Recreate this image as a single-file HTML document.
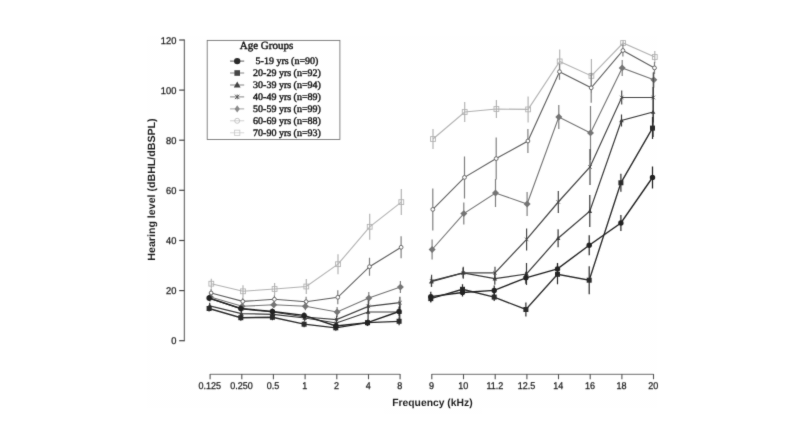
<!DOCTYPE html>
<html lang="en"><head><meta charset="utf-8"><title>Hearing level by age group</title>
<style>
html,body{margin:0;padding:0;background:#fff;}
body{width:800px;height:425px;overflow:hidden;}
svg{display:block;}
text{text-rendering:geometricPrecision;}
</style></head><body>
<svg width="800" height="425" viewBox="0 0 800 425">
<rect width="800" height="425" fill="#fff"/>
<defs><filter id="b" x="0" y="0" width="800" height="425" filterUnits="userSpaceOnUse"><feConvolveMatrix order="3" kernelMatrix="0.0100 0.0800 0.0100 0.0800 0.6400 0.0800 0.0100 0.0800 0.0100" edgeMode="none" preserveAlpha="false"/></filter></defs>
<pattern id="n" width="2" height="2" patternUnits="userSpaceOnUse"><rect width="2" height="2" fill="#fff"/><rect width="1" height="1" fill="#fefefe"/><rect x="1" y="1" width="1" height="1" fill="#fefefe"/></pattern>
<path d="M147 36H657V408H482V414H384V408H147Z" fill="url(#n)"/>
<g id="plot" filter="url(#b)">
<g stroke="#6a6a6a" stroke-width="1.1" fill="none">
<path d="M184.4 39.6V341.2" stroke="#777" stroke-width="1.3"/>
<path d="M179.2 340.7H184.4" stroke="#444" stroke-width="1.2"/>
<path d="M179.2 290.6H184.4" stroke="#444" stroke-width="1.2"/>
<path d="M179.2 240.5H184.4" stroke="#444" stroke-width="1.2"/>
<path d="M179.2 190.3H184.4" stroke="#444" stroke-width="1.2"/>
<path d="M179.2 140.2H184.4" stroke="#444" stroke-width="1.2"/>
<path d="M179.2 90.1H184.4" stroke="#444" stroke-width="1.2"/>
<path d="M179.2 40.0H184.4" stroke="#444" stroke-width="1.2"/>
<path d="M210.1 374.4H400.1M431.8 374.4H653.5" stroke="#8a8a8a" stroke-width="1.1"/>
<path d="M210.1 374V379.2" stroke="#555" stroke-width="1.1"/>
<path d="M400.1 374V379.2" stroke="#555" stroke-width="1.1"/>
<path d="M431.8 374V379.2" stroke="#555" stroke-width="1.1"/>
<path d="M653.5 374V379.2" stroke="#555" stroke-width="1.1"/>
<path d="M241.8 374V379.2" stroke="#555" stroke-width="1.1"/>
<path d="M273.4 374V379.2" stroke="#555" stroke-width="1.1"/>
<path d="M305.1 374V379.2" stroke="#555" stroke-width="1.1"/>
<path d="M336.8 374V379.2" stroke="#555" stroke-width="1.1"/>
<path d="M368.5 374V379.2" stroke="#555" stroke-width="1.1"/>
<path d="M463.5 374V379.2" stroke="#555" stroke-width="1.1"/>
<path d="M495.2 374V379.2" stroke="#555" stroke-width="1.1"/>
<path d="M526.9 374V379.2" stroke="#555" stroke-width="1.1"/>
<path d="M558.5 374V379.2" stroke="#555" stroke-width="1.1"/>
<path d="M590.2 374V379.2" stroke="#555" stroke-width="1.1"/>
<path d="M621.9 374V379.2" stroke="#555" stroke-width="1.1"/>
</g>
<g font-family="'Liberation Sans',Arial,sans-serif" font-size="9.8" fill="#1a1a1a" stroke="#1a1a1a" stroke-width="0.25">
<text transform="translate(176.4 344.2) scale(0.95 1)" text-anchor="end">0</text>
<text transform="translate(176.4 294.1) scale(0.95 1)" text-anchor="end">20</text>
<text transform="translate(176.4 244.0) scale(0.95 1)" text-anchor="end">40</text>
<text transform="translate(176.4 193.8) scale(0.95 1)" text-anchor="end">60</text>
<text transform="translate(176.4 143.7) scale(0.95 1)" text-anchor="end">80</text>
<text transform="translate(176.4 93.6) scale(0.95 1)" text-anchor="end">100</text>
<text transform="translate(176.4 43.5) scale(0.95 1)" text-anchor="end">120</text>
<text transform="translate(209.8 389.4) scale(0.92 1)" text-anchor="middle">0.125</text>
<text transform="translate(241.5 389.4) scale(0.92 1)" text-anchor="middle">0.250</text>
<text transform="translate(273.1 389.4) scale(0.92 1)" text-anchor="middle">0.5</text>
<text transform="translate(304.8 389.4) scale(0.92 1)" text-anchor="middle">1</text>
<text transform="translate(336.5 389.4) scale(0.92 1)" text-anchor="middle">2</text>
<text transform="translate(368.2 389.4) scale(0.92 1)" text-anchor="middle">4</text>
<text transform="translate(399.8 389.4) scale(0.92 1)" text-anchor="middle">8</text>
<text transform="translate(431.5 389.4) scale(0.92 1)" text-anchor="middle">9</text>
<text transform="translate(463.2 389.4) scale(0.92 1)" text-anchor="middle">10</text>
<text transform="translate(494.9 389.4) scale(0.92 1)" text-anchor="middle">11.2</text>
<text transform="translate(526.6 389.4) scale(0.92 1)" text-anchor="middle">12.5</text>
<text transform="translate(558.2 389.4) scale(0.92 1)" text-anchor="middle">14</text>
<text transform="translate(589.9 389.4) scale(0.92 1)" text-anchor="middle">16</text>
<text transform="translate(621.6 389.4) scale(0.92 1)" text-anchor="middle">18</text>
<text transform="translate(653.2 389.4) scale(0.92 1)" text-anchor="middle">20</text>
</g>
<g font-family="'Liberation Sans',Arial,sans-serif" font-weight="bold" fill="#1e1e1e">
<text transform="translate(432.4 406.4) scale(0.99 1)" text-anchor="middle" font-size="10.45">Frequency (kHz)</text>
<text transform="translate(154.6 189.5) rotate(-90) scale(1.012 1)" text-anchor="middle" font-size="10.5">Hearing level (dBHL/dBSPL)</text>
</g>
<polyline points="211.3,283.7 243.0,291.3 274.6,289.0 306.3,286.5 338.0,264.2 369.7,226.8 401.3,202.1" fill="none" stroke="#b2b2b2" stroke-width="1.1"/>
<polyline points="433.0,139.0 464.7,112.0 496.4,109.0 528.1,109.4 559.7,61.4 591.4,75.9 623.1,43.0 654.8,57.0" fill="none" stroke="#b2b2b2" stroke-width="1.1"/>
<path d="M211.3 278.7V288.7M243.0 285.3V297.3M274.6 283.0V295.0M306.3 278.9V294.1M338.0 254.2V274.2M369.7 213.8V239.8M401.3 189.1V215.1M433.0 129.0V149.0M464.7 102.0V122.0M496.4 100.0V118.0M528.1 96.4V122.4M559.7 49.4V73.4M591.4 58.9V92.9M623.1 40.0V46.0M654.8 51.0V63.0" stroke="#b4b4b4" stroke-width="1.2" fill="none"/>
<rect x="208.9" y="281.3" width="4.8" height="4.8" fill="none" stroke="#b2b2b2" stroke-width="0.9"/>
<rect x="240.6" y="288.9" width="4.8" height="4.8" fill="none" stroke="#b2b2b2" stroke-width="0.9"/>
<rect x="272.2" y="286.6" width="4.8" height="4.8" fill="none" stroke="#b2b2b2" stroke-width="0.9"/>
<rect x="303.9" y="284.1" width="4.8" height="4.8" fill="none" stroke="#b2b2b2" stroke-width="0.9"/>
<rect x="335.6" y="261.8" width="4.8" height="4.8" fill="none" stroke="#b2b2b2" stroke-width="0.9"/>
<rect x="367.3" y="224.4" width="4.8" height="4.8" fill="none" stroke="#b2b2b2" stroke-width="0.9"/>
<rect x="398.9" y="199.7" width="4.8" height="4.8" fill="none" stroke="#b2b2b2" stroke-width="0.9"/>
<rect x="430.6" y="136.6" width="4.8" height="4.8" fill="none" stroke="#b2b2b2" stroke-width="0.9"/>
<rect x="462.3" y="109.6" width="4.8" height="4.8" fill="none" stroke="#b2b2b2" stroke-width="0.9"/>
<rect x="494.0" y="106.6" width="4.8" height="4.8" fill="none" stroke="#b2b2b2" stroke-width="0.9"/>
<rect x="525.7" y="107.0" width="4.8" height="4.8" fill="none" stroke="#b2b2b2" stroke-width="0.9"/>
<rect x="557.3" y="59.0" width="4.8" height="4.8" fill="none" stroke="#b2b2b2" stroke-width="0.9"/>
<rect x="589.0" y="73.5" width="4.8" height="4.8" fill="none" stroke="#b2b2b2" stroke-width="0.9"/>
<rect x="620.7" y="40.6" width="4.8" height="4.8" fill="none" stroke="#b2b2b2" stroke-width="0.9"/>
<rect x="652.4" y="54.6" width="4.8" height="4.8" fill="none" stroke="#b2b2b2" stroke-width="0.9"/>
<polyline points="211.1,293.0 242.8,301.4 274.4,299.3 306.1,301.7 337.8,297.3 369.5,266.7 401.1,247.3" fill="none" stroke="#5e5e5e" stroke-width="1.1"/>
<polyline points="432.8,209.4 464.5,177.4 496.2,158.6 527.9,141.0 559.5,71.7 591.2,87.8 622.9,50.5 654.5,67.9" fill="none" stroke="#5e5e5e" stroke-width="1.1"/>
<path d="M211.1 289.0V297.0M242.8 297.4V305.4M274.4 295.3V303.3M306.1 296.7V306.7M337.8 290.3V304.3M369.5 257.7V275.7M401.1 236.3V258.3M432.8 188.4V230.4M464.5 156.4V198.4M496.2 137.6V179.6M527.9 129.0V153.0M559.5 63.7V79.7M591.2 72.8V102.8M622.9 44.5V56.5M654.5 61.9V73.9" stroke="#808080" stroke-width="1.2" fill="none"/>
<circle cx="211.1" cy="293.0" r="1.90" fill="#fdfdfd" stroke="#5e5e5e" stroke-width="1"/>
<circle cx="242.8" cy="301.4" r="1.90" fill="#fdfdfd" stroke="#5e5e5e" stroke-width="1"/>
<circle cx="274.4" cy="299.3" r="1.90" fill="#fdfdfd" stroke="#5e5e5e" stroke-width="1"/>
<circle cx="306.1" cy="301.7" r="1.90" fill="#fdfdfd" stroke="#5e5e5e" stroke-width="1"/>
<circle cx="337.8" cy="297.3" r="1.90" fill="#fdfdfd" stroke="#5e5e5e" stroke-width="1"/>
<circle cx="369.5" cy="266.7" r="1.90" fill="#fdfdfd" stroke="#5e5e5e" stroke-width="1"/>
<circle cx="401.1" cy="247.3" r="1.90" fill="#fdfdfd" stroke="#5e5e5e" stroke-width="1"/>
<circle cx="432.8" cy="209.4" r="1.90" fill="#fdfdfd" stroke="#5e5e5e" stroke-width="1"/>
<circle cx="464.5" cy="177.4" r="1.90" fill="#fdfdfd" stroke="#5e5e5e" stroke-width="1"/>
<circle cx="496.2" cy="158.6" r="1.90" fill="#fdfdfd" stroke="#5e5e5e" stroke-width="1"/>
<circle cx="527.9" cy="141.0" r="1.90" fill="#fdfdfd" stroke="#5e5e5e" stroke-width="1"/>
<circle cx="559.5" cy="71.7" r="1.90" fill="#fdfdfd" stroke="#5e5e5e" stroke-width="1"/>
<circle cx="591.2" cy="87.8" r="1.90" fill="#fdfdfd" stroke="#5e5e5e" stroke-width="1"/>
<circle cx="622.9" cy="50.5" r="1.90" fill="#fdfdfd" stroke="#5e5e5e" stroke-width="1"/>
<circle cx="654.5" cy="67.9" r="1.90" fill="#fdfdfd" stroke="#5e5e5e" stroke-width="1"/>
<polyline points="210.4,297.0 242.1,306.3 273.8,304.8 305.4,306.3 337.1,312.0 368.8,298.1 400.4,287.1" fill="none" stroke="#747474" stroke-width="1.1"/>
<polyline points="432.1,249.5 463.8,213.6 495.5,193.0 527.1,204.0 558.8,117.0 590.5,132.9 622.2,67.9 653.8,79.8" fill="none" stroke="#747474" stroke-width="1.1"/>
<path d="M210.4 294.0V300.0M242.1 303.3V309.3M273.8 301.8V307.8M305.4 302.3V310.3M337.1 307.0V317.0M368.8 292.1V304.1M400.4 281.1V293.1M432.1 239.5V259.5M463.8 202.6V224.6M495.5 179.0V207.0M527.1 192.0V216.0M558.8 105.0V129.0M590.5 105.9V159.9M622.2 59.9V75.9M653.8 71.8V87.8" stroke="#808080" stroke-width="1.2" fill="none"/>
<polygon points="210.4,293.6 213.9,297.0 210.4,300.4 206.9,297.0" fill="#747474"/>
<polygon points="242.1,302.9 245.6,306.3 242.1,309.7 238.6,306.3" fill="#747474"/>
<polygon points="273.8,301.4 277.2,304.8 273.8,308.2 270.2,304.8" fill="#747474"/>
<polygon points="305.4,302.9 308.9,306.3 305.4,309.7 301.9,306.3" fill="#747474"/>
<polygon points="337.1,308.6 340.6,312.0 337.1,315.4 333.6,312.0" fill="#747474"/>
<polygon points="368.8,294.7 372.3,298.1 368.8,301.5 365.3,298.1" fill="#747474"/>
<polygon points="400.4,283.7 403.9,287.1 400.4,290.5 396.9,287.1" fill="#747474"/>
<polygon points="432.1,246.1 435.6,249.5 432.1,252.9 428.6,249.5" fill="#747474"/>
<polygon points="463.8,210.2 467.3,213.6 463.8,217.0 460.3,213.6" fill="#747474"/>
<polygon points="495.5,189.6 499.0,193.0 495.5,196.4 492.0,193.0" fill="#747474"/>
<polygon points="527.1,200.6 530.6,204.0 527.1,207.4 523.6,204.0" fill="#747474"/>
<polygon points="558.8,113.6 562.3,117.0 558.8,120.4 555.3,117.0" fill="#747474"/>
<polygon points="590.5,129.5 594.0,132.9 590.5,136.3 587.0,132.9" fill="#747474"/>
<polygon points="622.2,64.5 625.7,67.9 622.2,71.3 618.7,67.9" fill="#747474"/>
<polygon points="653.8,76.4 657.3,79.8 653.8,83.2 650.3,79.8" fill="#747474"/>
<polyline points="209.9,298.5 241.6,309.0 273.2,312.0 304.9,317.0 336.6,319.6 368.3,306.4 399.9,302.7" fill="none" stroke="#444444" stroke-width="1.2"/>
<polyline points="431.6,280.8 463.3,272.8 495.0,272.8 526.6,239.4 558.3,202.0 590.0,167.0 621.7,97.5 653.3,97.5" fill="none" stroke="#444444" stroke-width="1.2"/>
<path d="M209.9 295.5V301.5M241.6 306.0V312.0M273.2 309.0V315.0M304.9 314.0V320.0M336.6 315.6V323.6M368.3 300.4V312.4M399.9 296.7V308.7M431.6 274.8V286.8M463.3 266.8V278.8M495.0 266.8V278.8M526.6 228.4V250.4M558.3 191.0V213.0M590.0 149.0V185.0M621.7 90.5V104.5M653.3 72.5V122.5" stroke="#4a4a4a" stroke-width="1.2" fill="none"/>
<path d="M208.1 296.7L211.7 300.3M208.1 300.3L211.7 296.7" stroke="#444444" stroke-width="0.8" fill="none"/>
<path d="M239.8 307.2L243.4 310.8M239.8 310.8L243.4 307.2" stroke="#444444" stroke-width="0.8" fill="none"/>
<path d="M271.4 310.2L275.1 313.8M271.4 313.8L275.1 310.2" stroke="#444444" stroke-width="0.8" fill="none"/>
<path d="M303.1 315.2L306.7 318.8M303.1 318.8L306.7 315.2" stroke="#444444" stroke-width="0.8" fill="none"/>
<path d="M334.8 317.8L338.4 321.4M334.8 321.4L338.4 317.8" stroke="#444444" stroke-width="0.8" fill="none"/>
<path d="M366.5 304.6L370.1 308.2M366.5 308.2L370.1 304.6" stroke="#444444" stroke-width="0.8" fill="none"/>
<path d="M398.1 300.9L401.8 304.5M398.1 304.5L401.8 300.9" stroke="#444444" stroke-width="0.8" fill="none"/>
<path d="M429.8 279.0L433.4 282.6M429.8 282.6L433.4 279.0" stroke="#444444" stroke-width="0.8" fill="none"/>
<path d="M461.5 271.0L465.1 274.6M461.5 274.6L465.1 271.0" stroke="#444444" stroke-width="0.8" fill="none"/>
<path d="M493.2 271.0L496.8 274.6M493.2 274.6L496.8 271.0" stroke="#444444" stroke-width="0.8" fill="none"/>
<path d="M524.9 237.6L528.4 241.2M524.9 241.2L528.4 237.6" stroke="#444444" stroke-width="0.8" fill="none"/>
<path d="M556.5 200.2L560.1 203.8M556.5 203.8L560.1 200.2" stroke="#444444" stroke-width="0.8" fill="none"/>
<path d="M588.2 165.2L591.8 168.8M588.2 168.8L591.8 165.2" stroke="#444444" stroke-width="0.8" fill="none"/>
<path d="M619.9 95.7L623.5 99.3M619.9 99.3L623.5 95.7" stroke="#444444" stroke-width="0.8" fill="none"/>
<path d="M651.5 95.7L655.1 99.3M651.5 99.3L655.1 95.7" stroke="#444444" stroke-width="0.8" fill="none"/>
<polyline points="209.7,305.8 241.4,313.6 273.1,314.3 304.7,318.0 336.4,323.0 368.1,312.0 399.8,312.0" fill="none" stroke="#3a3a3a" stroke-width="1.2"/>
<polyline points="431.4,281.7 463.1,272.8 494.8,278.7 526.5,274.0 558.1,238.2 589.8,211.1 621.5,120.5 653.1,112.0" fill="none" stroke="#3a3a3a" stroke-width="1.2"/>
<path d="M209.7 302.8V308.8M241.4 310.6V316.6M273.1 311.3V317.3M304.7 315.0V321.0M336.4 319.0V327.0M368.1 304.0V320.0M399.8 304.0V320.0M431.4 276.7V286.7M463.1 267.8V277.8M494.8 272.7V284.7M526.5 263.0V285.0M558.1 229.2V247.2M589.8 195.1V227.1M621.5 114.5V126.5M653.1 87.0V137.0" stroke="#3a3a3a" stroke-width="1.2" fill="none"/>
<polygon points="209.7,303.5 212.0,307.6 207.4,307.6" fill="#3a3a3a"/>
<polygon points="241.4,311.3 243.7,315.4 239.1,315.4" fill="#3a3a3a"/>
<polygon points="273.1,312.0 275.4,316.1 270.8,316.1" fill="#3a3a3a"/>
<polygon points="304.7,315.7 307.0,319.8 302.4,319.8" fill="#3a3a3a"/>
<polygon points="336.4,320.7 338.7,324.8 334.1,324.8" fill="#3a3a3a"/>
<polygon points="368.1,309.7 370.4,313.8 365.8,313.8" fill="#3a3a3a"/>
<polygon points="399.8,309.7 402.1,313.8 397.4,313.8" fill="#3a3a3a"/>
<polygon points="431.4,279.4 433.7,283.5 429.1,283.5" fill="#3a3a3a"/>
<polygon points="463.1,270.5 465.4,274.6 460.8,274.6" fill="#3a3a3a"/>
<polygon points="494.8,276.4 497.1,280.5 492.5,280.5" fill="#3a3a3a"/>
<polygon points="526.5,271.7 528.8,275.8 524.2,275.8" fill="#3a3a3a"/>
<polygon points="558.1,235.9 560.4,240.0 555.8,240.0" fill="#3a3a3a"/>
<polygon points="589.8,208.8 592.1,212.9 587.5,212.9" fill="#3a3a3a"/>
<polygon points="621.5,118.2 623.8,122.3 619.2,122.3" fill="#3a3a3a"/>
<polygon points="653.1,109.7 655.4,113.8 650.9,113.8" fill="#3a3a3a"/>
<polyline points="209.1,308.5 240.8,317.7 272.4,317.3 304.1,324.2 335.8,327.8 367.5,322.7 399.1,321.3" fill="none" stroke="#2a2a2a" stroke-width="1.35"/>
<polyline points="430.8,298.6 462.5,289.3 494.2,297.1 525.9,309.5 557.5,274.3 589.2,280.2 620.9,182.8 652.5,128.1" fill="none" stroke="#2a2a2a" stroke-width="1.35"/>
<path d="M209.1 305.5V311.5M240.8 314.7V320.7M272.4 314.3V320.3M304.1 321.2V327.2M335.8 324.8V330.8M367.5 319.7V325.7M399.1 317.3V325.3M430.8 294.6V302.6M462.5 284.3V294.3M494.2 293.1V301.1M525.9 302.5V316.5M557.5 264.3V284.3M589.2 266.2V294.2M620.9 173.8V191.8M652.5 117.1V139.1" stroke="#2a2a2a" stroke-width="1.2" fill="none"/>
<rect x="206.6" y="306.0" width="5.0" height="5.0" fill="#2a2a2a"/>
<rect x="238.3" y="315.2" width="5.0" height="5.0" fill="#2a2a2a"/>
<rect x="269.9" y="314.8" width="5.0" height="5.0" fill="#2a2a2a"/>
<rect x="301.6" y="321.7" width="5.0" height="5.0" fill="#2a2a2a"/>
<rect x="333.3" y="325.3" width="5.0" height="5.0" fill="#2a2a2a"/>
<rect x="365.0" y="320.2" width="5.0" height="5.0" fill="#2a2a2a"/>
<rect x="396.6" y="318.8" width="5.0" height="5.0" fill="#2a2a2a"/>
<rect x="428.3" y="296.1" width="5.0" height="5.0" fill="#2a2a2a"/>
<rect x="460.0" y="286.8" width="5.0" height="5.0" fill="#2a2a2a"/>
<rect x="491.7" y="294.6" width="5.0" height="5.0" fill="#2a2a2a"/>
<rect x="523.4" y="307.0" width="5.0" height="5.0" fill="#2a2a2a"/>
<rect x="555.0" y="271.8" width="5.0" height="5.0" fill="#2a2a2a"/>
<rect x="586.7" y="277.7" width="5.0" height="5.0" fill="#2a2a2a"/>
<rect x="618.4" y="180.3" width="5.0" height="5.0" fill="#2a2a2a"/>
<rect x="650.0" y="125.6" width="5.0" height="5.0" fill="#2a2a2a"/>
<polyline points="209.1,298.0 240.8,308.5 272.4,311.5 304.1,315.4 335.8,326.0 367.5,322.7 399.1,311.5" fill="none" stroke="#222222" stroke-width="1.35"/>
<polyline points="430.8,296.7 462.5,292.5 494.2,290.4 525.9,277.8 557.5,268.9 589.2,245.2 620.9,223.0 652.5,177.5" fill="none" stroke="#222222" stroke-width="1.35"/>
<path d="M209.1 295.0V301.0M240.8 305.5V311.5M272.4 308.5V314.5M304.1 312.4V318.4M335.8 323.0V329.0M367.5 319.7V325.7M399.1 306.5V316.5M430.8 291.7V301.7M462.5 288.5V296.5M494.2 285.4V295.4M525.9 271.8V283.8M557.5 262.9V274.9M589.2 235.2V255.2M620.9 215.0V231.0M652.5 166.5V188.5" stroke="#222" stroke-width="1.2" fill="none"/>
<circle cx="209.1" cy="298.0" r="2.70" fill="#222222"/>
<circle cx="240.8" cy="308.5" r="2.70" fill="#222222"/>
<circle cx="272.4" cy="311.5" r="2.70" fill="#222222"/>
<circle cx="304.1" cy="315.4" r="2.70" fill="#222222"/>
<circle cx="335.8" cy="326.0" r="2.70" fill="#222222"/>
<circle cx="367.5" cy="322.7" r="2.70" fill="#222222"/>
<circle cx="399.1" cy="311.5" r="2.70" fill="#222222"/>
<circle cx="430.8" cy="296.7" r="2.70" fill="#222222"/>
<circle cx="462.5" cy="292.5" r="2.70" fill="#222222"/>
<circle cx="494.2" cy="290.4" r="2.70" fill="#222222"/>
<circle cx="525.9" cy="277.8" r="2.70" fill="#222222"/>
<circle cx="557.5" cy="268.9" r="2.70" fill="#222222"/>
<circle cx="589.2" cy="245.2" r="2.70" fill="#222222"/>
<circle cx="620.9" cy="223.0" r="2.70" fill="#222222"/>
<circle cx="652.5" cy="177.5" r="2.70" fill="#222222"/>
<rect x="207.2" y="40.4" width="132.7" height="99.1" fill="#fff" fill-opacity="0" stroke="#707070" stroke-width="0.85"/>
<g font-family="'Liberation Serif','Times New Roman',serif" fill="#111" stroke="#111" stroke-width="0.4">
<text x="266.5" y="48.9" text-anchor="middle" font-size="11">Age Groups</text>
<text x="287" y="64.4" text-anchor="middle" font-size="10">5-19 yrs (n=90)</text>
<text x="287" y="76.3" text-anchor="middle" font-size="10">20-29 yrs (n=92)</text>
<text x="287" y="88.3" text-anchor="middle" font-size="10">30-39 yrs (n=94)</text>
<text x="287" y="100.2" text-anchor="middle" font-size="10">40-49 yrs (n=89)</text>
<text x="287" y="112.2" text-anchor="middle" font-size="10">50-59 yrs (n=99)</text>
<text x="287" y="124.1" text-anchor="middle" font-size="10">60-69 yrs (n=88)</text>
<text x="287" y="136.1" text-anchor="middle" font-size="10">70-90 yrs (n=93)</text>
</g>
<path d="M230.1 61.1H244.2" stroke="#484848" stroke-width="0.9"/>
<circle cx="237.2" cy="61.1" r="3.2" fill="#2a2a2a"/>
<path d="M230.1 73.0H244.2" stroke="#777" stroke-width="0.9"/>
<rect x="234.39999999999998" y="70.2" width="5.6" height="5.6" fill="#444"/>
<path d="M230.1 85.0H244.2" stroke="#777" stroke-width="0.9"/>
<polygon points="237.2,81.6 240.6,87.6 233.79999999999998,87.6" fill="#444"/>
<path d="M230.1 96.9H244.2" stroke="#777" stroke-width="0.9"/>
<path d="M235.0 94.7L239.39999999999998 99.1M235.0 99.1L239.39999999999998 94.7M237.2 94.5V99.3" stroke="#555" stroke-width="1" fill="none"/>
<path d="M230.1 108.9H244.2" stroke="#999" stroke-width="0.9"/>
<polygon points="237.2,105.3 239.79999999999998,108.9 237.2,112.5 234.6,108.9" fill="#8a8a8a"/>
<path d="M230.1 120.8H244.2" stroke="#ccc" stroke-width="0.9"/>
<circle cx="237.2" cy="120.8" r="2.5" fill="none" stroke="#c0c0c0" stroke-width="0.9"/>
<path d="M230.1 132.8H244.2" stroke="#d4d4d4" stroke-width="0.9"/>
<rect x="234.6" y="130.2" width="5.2" height="5.2" fill="none" stroke="#cccccc" stroke-width="0.9"/>
</g>
</svg>
</body></html>
